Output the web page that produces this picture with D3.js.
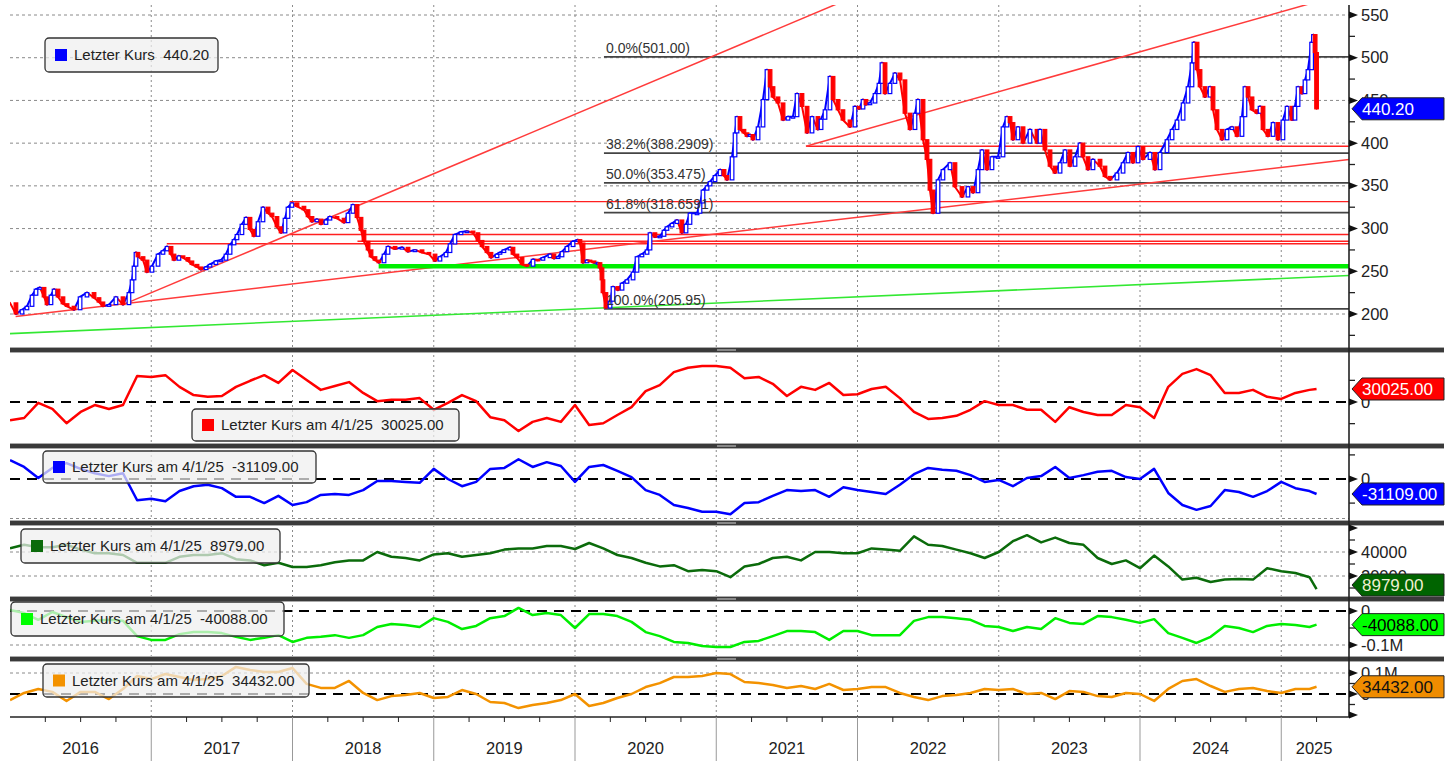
<!DOCTYPE html>
<html><head><meta charset="utf-8">
<script src="https://cdn.jsdelivr.net/npm/d3@7"></script>
<style>
body{margin:0;background:#fff;}
svg{display:block;font-family:"Liberation Sans",Arial,sans-serif;}
text{white-space:pre;}
</style></head><body>
<svg id="chart" width="1456" height="761"></svg>
<script>
// price, decimal year / close
var priceT = [2016.000,2016.042,2016.085,2016.120,2016.156,2016.184,2016.212,2016.241,2016.262,2016.290,2016.312,2016.340,2016.375,2016.404,2016.453,2016.496,2016.545,2016.595,2016.630,2016.658,2016.701,2016.750,2016.800,2016.842,2016.864,2016.878,2016.892,2016.906,2016.942,2016.970,
2017.005,2017.048,2017.083,2017.112,2017.140,2017.161,2017.196,2017.225,2017.260,2017.288,2017.324,2017.352,2017.388,2017.416,2017.458,2017.494,2017.529,2017.558,2017.586,2017.607,2017.642,2017.671,2017.699,2017.727,2017.756,2017.791,2017.827,2017.855,2017.890,2017.919,2017.947,2017.968,2017.996,
2018.032,2018.081,2018.110,2018.138,2018.173,2018.202,2018.237,2018.265,2018.315,2018.365,2018.393,2018.428,2018.457,2018.485,2018.506,2018.535,2018.556,2018.584,2018.612,2018.648,2018.676,2018.726,2018.775,2018.818,2018.867,2018.917,2018.966,
2019.009,2019.044,2019.087,2019.115,2019.150,2019.193,2019.235,2019.278,2019.313,2019.342,2019.377,2019.405,2019.448,2019.469,2019.497,2019.540,2019.561,2019.589,2019.625,2019.660,2019.703,2019.738,2019.773,2019.823,2019.851,2019.880,2019.908,2019.943,2019.986,
2020.021,2020.035,2020.057,2020.085,2020.106,2020.135,2020.163,2020.177,2020.191,2020.198,2020.219,2020.248,2020.269,2020.304,2020.333,2020.368,2020.411,2020.439,2020.474,2020.510,2020.531,2020.566,2020.602,2020.630,2020.651,2020.687,2020.722,2020.757,2020.786,2020.814,2020.864,2020.885,2020.906,2020.935,2020.956,2020.991,
2021.027,2021.055,2021.076,2021.112,2021.133,2021.147,2021.168,2021.196,2021.218,2021.239,2021.260,2021.296,2021.331,2021.359,2021.381,2021.402,2021.437,2021.473,2021.508,2021.543,2021.572,2021.607,2021.643,2021.678,2021.720,2021.742,2021.770,2021.805,2021.827,2021.862,2021.897,2021.947,2021.982,
2022.011,2022.039,2022.060,2022.088,2022.124,2022.152,2022.173,2022.195,2022.230,2022.265,2022.301,2022.336,2022.372,2022.407,2022.428,2022.464,2022.492,2022.513,2022.535,2022.570,2022.605,2022.655,2022.690,2022.740,2022.782,2022.818,2022.853,2022.881,2022.917,2022.952,2022.995,
2023.030,2023.058,2023.080,2023.101,2023.136,2023.172,2023.221,2023.271,2023.292,2023.327,2023.363,2023.398,2023.434,2023.469,2023.504,2023.540,2023.575,2023.596,2023.632,2023.667,2023.717,2023.752,2023.788,2023.837,2023.880,2023.915,2023.950,2023.986,
2024.021,2024.071,2024.106,2024.142,2024.191,2024.227,2024.262,2024.305,2024.340,2024.368,2024.382,2024.404,2024.425,2024.460,2024.496,2024.517,2024.545,2024.581,2024.616,2024.651,2024.687,2024.722,2024.743,2024.765,2024.793,2024.828,2024.850,2024.871,2024.906,2024.942,2024.977,
2025.012,2025.041,2025.076,2025.097,2025.119,2025.147,2025.168,2025.189,2025.215,2025.228,2025.240,2025.250];
var priceV = [213,200,205,209,222,229,231,220,211,222,229,220,212,209,205,220,225,219,214,209,211,220,211,225,240,256,272,267,263,249,
256,270,274,279,270,263,268,266,262,258,255,252,255,258,262,263,270,281,287,293,305,313,299,291,308,325,318,314,302,295,312,325,330,
326,322,314,308,311,305,310,314,312,307,318,328,313,298,285,275,267,263,260,270,279,276,278,273,275,272,270,
262,267,272,282,293,296,297,295,286,279,272,266,270,272,275,278,270,266,258,256,264,263,266,270,265,267,273,279,285,
287,283,260,263,262,260,260,254,240,225,207,215,232,228,236,240,249,267,270,275,295,290,291,298,302,306,310,295,305,318,318,330,345,350,355,362,
369,362,357,384,412,431,416,412,408,410,404,419,451,486,466,454,447,427,431,431,458,443,412,431,416,428,439,478,451,439,427,419,443,
440,451,445,447,458,470,494,458,470,482,474,435,416,435,451,404,381,345,318,357,369,377,349,337,349,342,369,392,369,384,384,
419,431,424,404,419,400,416,400,416,392,373,365,377,392,373,384,400,384,369,381,373,361,357,365,377,389,377,396,
381,389,369,389,404,416,427,447,466,494,518,486,466,454,466,439,416,404,416,419,408,431,466,454,439,435,443,416,408,424,404,
427,443,427,443,466,458,474,486,518,527,506,440.20];

// Fibonacci retracement
var fibLevels = [501.00, 388.2909, 353.475, 318.6591, 205.95];
var fibLabels = ["0.0%(501.00)", "38.2%(388.2909)", "50.0%(353.475)", "61.8%(318.6591)", "100.0%(205.95)"];
var fibStart = 2020.205;

// horizontal red levels
var levelV = [331.5, 293.0, 285.1, 282.2, 396.3];
var levelStart = [2017.98, 2017.98, 2018.46, 2017.11, 2021.635];

// trend lines: [t0, v0, t1, v1], drawn on to the right edge
var trendRed = [[2016.04, 197, 2025.48, 381], [2016.80, 211, 2021.84, 562], [2021.635, 396.3, 2024.30, 521]];
var trendGreen = [[2016.0, 177, 2025.48, 245]];
var supportV = 256, supportStart = 2018.61;

// oscillator panels, sampled every 0.1 year + last value at 4/1/25
var oscT = d3.range(0, 93).map(function(k){ return 2016 + k / 10; }).concat([2025.25]);
var redV = [-42000,-37000,-2000,-16000,-49000,-23000,-7000,-16000,-7000,60000,58000,62000,35000,16000,12000,14000,35000,49000,62000,44000,
74000,51000,28000,37000,46000,21000,2000,5000,5000,9000,-18000,-2000,16000,2000,-35000,-42000,-67000,-46000,-37000,-46000,
-7000,-53000,-49000,-30000,-12000,25000,39000,69000,79000,83000,83000,79000,55000,58000,42000,14000,35000,28000,44000,16000,
18000,30000,35000,9000,-23000,-39000,-37000,-32000,-18000,2000,-7000,-7000,-18000,-18000,-46000,-12000,-23000,-30000,-30000,-7000,
-12000,-37000,35000,65000,76000,62000,21000,21000,28000,12000,7000,21000,28000,30025];
var blueV = [39000,25000,2000,23000,33000,21000,12000,6000,12000,-44000,-41000,-46000,-25000,-15000,-12000,-19000,-37000,-37000,-50000,-35000,
-54000,-48000,-33000,-31000,-33000,-23000,-4000,-4000,-6000,-8000,21000,0,-15000,-6000,21000,23000,41000,25000,35000,27000,
-6000,25000,29000,17000,4000,-23000,-33000,-54000,-60000,-68000,-68000,-73000,-50000,-48000,-35000,-23000,-25000,-23000,-37000,-17000,
-23000,-27000,-31000,-12000,10000,23000,19000,17000,8000,-6000,-2000,-15000,2000,6000,25000,2000,8000,15000,17000,4000,
0,21000,-29000,-54000,-64000,-56000,-23000,-27000,-37000,-25000,-6000,-19000,-25000,-31109];
var dkGreenV = [43000,46000,44000,44000,46000,42000,39000,39000,37500,31000,31000,31000,36000,37500,37500,39000,34000,33000,29000,31000,
27500,27500,29000,31500,33000,33000,40000,36000,35000,33000,38000,39000,36000,37500,39000,42000,43000,43000,45000,45000,
42500,47500,43000,37500,35000,31000,28000,29000,24000,25000,24000,19000,28000,30000,35000,36000,33000,40000,40000,39000,
39000,43000,42000,41000,53000,46000,45000,42000,39000,35000,40000,49000,54000,48000,52000,47500,46000,35000,30000,33000,
26500,37000,28000,17000,18500,15000,17000,17500,17000,26500,24000,22500,19000,8979];
var limeV = [3000,-6000,-26000,-3000,-18000,-32000,-29000,-26000,-29000,-74000,-85000,-85000,-68000,-62000,-62000,-65000,-76000,-85000,-79000,-71000,
-91000,-79000,-76000,-71000,-79000,-71000,-47000,-38000,-41000,-47000,-21000,-32000,-53000,-44000,-21000,-15000,9000,-12000,-6000,-12000,
-50000,-9000,-9000,-15000,-32000,-62000,-74000,-91000,-94000,-103000,-106000,-106000,-91000,-88000,-74000,-59000,-59000,-62000,-85000,-59000,
-59000,-71000,-71000,-71000,-29000,-18000,-18000,-21000,-26000,-44000,-47000,-59000,-47000,-53000,-21000,-35000,-38000,-15000,-18000,-26000,
-35000,-24000,-65000,-79000,-94000,-76000,-44000,-50000,-62000,-44000,-38000,-41000,-47000,-40088];
var orangeV = [-29000,5000,24000,10000,-33000,10000,10000,-24000,24000,86000,71000,95000,81000,67000,71000,86000,129000,114000,105000,105000,
124000,48000,29000,29000,62000,5000,-29000,-10000,-5000,5000,-19000,-14000,19000,0,-38000,-43000,-67000,-52000,-43000,-29000,
0,-57000,-43000,-19000,0,33000,52000,81000,81000,86000,100000,95000,57000,52000,43000,29000,38000,24000,48000,19000,
24000,33000,33000,5000,-14000,-29000,-10000,-5000,5000,24000,19000,24000,0,5000,-24000,14000,10000,-10000,-14000,5000,
0,-33000,24000,62000,71000,38000,10000,24000,29000,14000,5000,24000,24000,34432];

var legendMain = "Letzter Kurs  440.20";
var oscLegends = ["Letzter Kurs am 4/1/25  30025.00", "Letzter Kurs am 4/1/25  -31109.00", "Letzter Kurs am 4/1/25  8979.00",
                  "Letzter Kurs am 4/1/25  -40088.00", "Letzter Kurs am 4/1/25  34432.00"];
var yearLabels = ["2016","2017","2018","2019","2020","2021","2022","2023","2024","2025"];

var svg = d3.select('#chart');
var L = 10, R = 1349, tEnd = 2025.48;
var x = d3.scaleLinear().domain([2016, 2025]).range([10, 1281.25]);

// panel layout
var panels = [
  {id:'p0', top:5,   bottom:347, y:d3.scaleLinear().domain([200, 550]).range([314, 15])},
  {id:'p1', top:353, bottom:443, y:d3.scaleLinear().domain([-100000, 100000]).range([445.3, 358.7])},
  {id:'p2', top:448, bottom:520, y:d3.scaleLinear().domain([-100000, 100000]).range([527.2, 430.8])},
  {id:'p3', top:525, bottom:596, y:d3.scaleLinear().domain([20000, 40000]).range([576, 552])},
  {id:'p4', top:601, bottom:656, y:d3.scaleLinear().domain([-100000, 0]).range([645, 611])},
  {id:'p5', top:661, bottom:717, y:d3.scaleLinear().domain([0, 100000]).range([694, 673])}
];
var defs = svg.append('defs');
panels.forEach(function(p){
  defs.append('clipPath').attr('id', 'clip' + p.id).append('rect')
    .attr('x', L).attr('y', p.top).attr('width', R - L).attr('height', p.bottom - p.top);
});
var yM = panels[0].y;

// vertical year grid
var years = d3.range(2017, 2026);
svg.append('g').selectAll('line').data(years).enter().append('line')
  .attr('x1', d => x(d)).attr('x2', d => x(d)).attr('y1', 5).attr('y2', 717)
  .attr('stroke', '#8a8a8a').attr('stroke-dasharray', '2,3');

// horizontal grids
function hgrid(vals, scale){
  svg.append('g').selectAll('line').data(vals).enter().append('line')
    .attr('x1', L).attr('x2', R).attr('y1', d => scale(d)).attr('y2', d => scale(d))
    .attr('stroke', '#8a8a8a').attr('stroke-dasharray', '3,3');
}
hgrid(d3.range(200, 551, 50), yM);
hgrid([20000, 40000], panels[3].y);
hgrid([-100000], panels[4].y);
hgrid([100000], panels[5].y);
svg.append('line').attr('x1', L).attr('x2', R).attr('y1', 518.5).attr('y2', 518.5)
  .attr('stroke', '#8a8a8a').attr('stroke-dasharray', '3,3');

// main panel overlays
function extend(d){
  var s = (d[3] - d[1]) / (d[2] - d[0]);
  return [d[0], d[1], tEnd, d[1] + s * (tEnd - d[0])];
}
var gM = svg.append('g').attr('clip-path', 'url(#clipp0)');
gM.selectAll('line.fib').data(fibLevels).enter().append('line')
  .attr('x1', x(fibStart)).attr('x2', R).attr('y1', d => yM(d)).attr('y2', d => yM(d))
  .attr('stroke', '#444').attr('stroke-width', 1.6);
gM.selectAll('line.lvl').data(levelV).enter().append('line')
  .attr('x1', (d, i) => x(levelStart[i])).attr('x2', R).attr('y1', d => yM(d)).attr('y2', d => yM(d))
  .attr('stroke', '#ff2020').attr('stroke-width', 1.4);
gM.selectAll('line.tr').data(trendRed.map(extend)).enter().append('line')
  .attr('x1', d => x(d[0])).attr('y1', d => yM(d[1])).attr('x2', d => x(d[2])).attr('y2', d => yM(d[3]))
  .attr('stroke', '#ff3b3b').attr('stroke-width', 1.5);
gM.selectAll('line.tg').data(trendGreen.map(extend)).enter().append('line')
  .attr('x1', d => x(d[0])).attr('y1', d => yM(d[1])).attr('x2', d => x(d[2])).attr('y2', d => yM(d[3]))
  .attr('stroke', '#33e833').attr('stroke-width', 1.6);
gM.append('line').attr('x1', x(supportStart)).attr('x2', R)
  .attr('y1', yM(supportV)).attr('y2', yM(supportV))
  .attr('stroke', '#00ee00').attr('stroke-width', 4.5);

// price: up moves blue, down moves red, drawn as joined bars
var idx = d3.range(1, priceT.length);
var upC = '#0000ff', dnC = '#ff0000';
gM.selectAll('line.px').data(idx).enter().append('line')
  .attr('x1', i => x(priceT[i-1])).attr('y1', i => yM(priceV[i-1]))
  .attr('x2', i => x(priceT[i])).attr('y2', i => yM(priceV[i]))
  .attr('stroke', i => priceV[i] >= priceV[i-1] ? upC : dnC)
  .attr('stroke-width', 2).attr('stroke-linecap', 'round');
gM.selectAll('rect.cd').data(idx).enter().append('rect')
  .attr('x', i => x(priceT[i]) - 1.8).attr('width', 3.6)
  .attr('y', i => yM(Math.max(priceV[i], priceV[i-1])))
  .attr('height', i => Math.max(1.5, Math.abs(yM(priceV[i]) - yM(priceV[i-1]))))
  .attr('fill', i => priceV[i] >= priceV[i-1] ? '#fff' : dnC)
  .attr('stroke', i => priceV[i] >= priceV[i-1] ? upC : dnC).attr('stroke-width', 1.2);

svg.append('g').selectAll('text').data(fibLabels).enter().append('text')
  .attr('x', x(fibStart) + 2).attr('y', (d, i) => yM(fibLevels[i]) - 4)
  .attr('font-size', 14).attr('fill', '#333').text(d => d);

// oscillator lines
var oscSeries = [
  {v:redV, c:'#ff0000', zero:true},
  {v:blueV, c:'#0000ff', zero:true},
  {v:dkGreenV, c:'#0b6b0b', zero:false},
  {v:limeV, c:'#00ee00', zero:true},
  {v:orangeV, c:'#f39200', zero:true}
];
oscSeries.forEach(function(s, i){
  var p = panels[i + 1];
  if (s.zero) {
    svg.append('line').attr('x1', L).attr('x2', R).attr('y1', p.y(0)).attr('y2', p.y(0))
      .attr('stroke', '#000').attr('stroke-width', 2.2).attr('stroke-dasharray', '10,7');
  }
  var line = d3.line().x((d, k) => x(oscT[k])).y(d => p.y(d));
  svg.append('path').datum(s.v).attr('clip-path', 'url(#clip' + p.id + ')')
    .attr('d', line).attr('fill', 'none').attr('stroke', s.c).attr('stroke-width', 2.5)
    .attr('stroke-linejoin', 'round');
});

// separators
[347, 443, 520, 596, 656].forEach(function(y){
  svg.append('rect').attr('x', L).attr('y', y).attr('width', 1434).attr('height', 6).attr('fill', '#aaa');
  svg.append('rect').attr('x', L).attr('y', y + 1).attr('width', 1434).attr('height', 4).attr('fill', '#3a3a3a');
  svg.append('rect').attr('x', 717).attr('y', y + 2).attr('width', 19).attr('height', 2).attr('fill', '#888');
});

// right axis
svg.append('line').attr('x1', R).attr('x2', R).attr('y1', 5).attr('y2', 717).attr('stroke', '#222').attr('stroke-width', 1.6);
var axisDefs = [
  {p:0, major:d3.range(200, 551, 50), minor:d3.range(175, 551, 50), fmt:d => String(d)},
  {p:1, major:[0], minor:[-50000, 50000], fmt:d => '0'},
  {p:2, major:[0, -100000], minor:[-50000, 50000], fmt:d => d === 0 ? '0' : ''},
  {p:3, major:[60000, 40000, 20000], minor:[50000, 30000, 10000], fmt:d => d === 60000 ? '' : String(d)},
  {p:4, major:[0, -100000], minor:[-50000], fmt:d => d === 0 ? '0' : '-0.1M'},
  {p:5, major:[100000, 0, -100000], minor:[50000, -50000], fmt:d => d === 100000 ? '0.1M' : (d === 0 ? '0' : '')}
];
var gAx = svg.append('g');
axisDefs.forEach(function(a){
  var p = panels[a.p];
  a.minor.forEach(function(v){
    var yy = p.y(v);
    if (yy < p.top || yy > p.bottom) return;
    gAx.append('line').attr('x1', R).attr('x2', R + 6).attr('y1', yy).attr('y2', yy).attr('stroke', '#222').attr('stroke-width', 1.3);
  });
  a.major.forEach(function(v){
    var yy = p.y(v);
    if (yy < p.top - 1 || yy > p.bottom + 1) return;
    gAx.append('path').attr('d', 'M' + R + ',' + (yy - 3.5) + 'L' + (R + 9) + ',' + yy + 'L' + R + ',' + (yy + 3.5) + 'Z').attr('fill', '#111');
    var t = a.fmt(v);
    if (t) gAx.append('text').attr('x', R + 12).attr('y', yy + 5.5).attr('font-size', 16.5).attr('fill', '#222').text(t);
  });
});

// value tags
var tags = [
  {p:0, v:440.20, txt:'440.20', fill:'#0000ff', col:'#fff'},
  {p:1, v:30025, txt:'30025.00', fill:'#ff0000', col:'#fff'},
  {p:2, v:-31109, txt:'-31109.00', fill:'#0000ff', col:'#fff'},
  {p:3, v:8979, txt:'8979.00', fill:'#006400', col:'#f0f0d0'},
  {p:4, v:-40088, txt:'-40088.00', fill:'#00ff00', col:'#000'},
  {p:5, v:34432, txt:'34432.00', fill:'#ef8c00', col:'#111'}
];
tags.forEach(function(t){
  var yy = Math.min(panels[t.p].y(t.v), panels[t.p].bottom - 11);
  svg.append('path').attr('d', 'M' + (R + 3) + ',' + yy + 'L' + (R + 13) + ',' + (yy - 11) + 'L1444,' + (yy - 11) +
      'L1444,' + (yy + 11) + 'L' + (R + 13) + ',' + (yy + 11) + 'Z')
    .attr('fill', t.fill).attr('stroke', '#222').attr('stroke-width', 1);
  svg.append('text').attr('x', R + 13).attr('y', yy + 6).attr('font-size', 17).attr('fill', t.col).text(t.txt);
});

// bottom time axis
svg.append('line').attr('x1', L).attr('x2', R).attr('y1', 717).attr('y2', 717).attr('stroke', '#222').attr('stroke-width', 1.5);
var quarters = d3.range(2016.25, 2025.3, 0.25).filter(d => d % 1 !== 0);
svg.append('g').selectAll('line').data(quarters).enter().append('line')
  .attr('x1', d => x(d)).attr('x2', d => x(d)).attr('y1', 717).attr('y2', 722).attr('stroke', '#222');
svg.append('g').selectAll('line').data(years).enter().append('line')
  .attr('x1', d => x(d)).attr('x2', d => x(d)).attr('y1', 717).attr('y2', 761).attr('stroke', '#999');
svg.append('g').selectAll('text').data(yearLabels).enter().append('text')
  .attr('x', (d, i) => i < 9 ? (x(2016 + i) + x(2017 + i)) / 2 : (x(2025) + R) / 2 - 1)
  .attr('y', 754).attr('text-anchor', 'middle').attr('font-size', 16.5).attr('fill', '#222').text(d => d);

// legends
var legends = [
  {x:45, y:38, w:173, h:34, c:'#0000ff', t:legendMain},
  {x:192, y:409, w:267, h:32, c:'#ff0000', t:oscLegends[0]},
  {x:43, y:451, w:273, h:32, c:'#0000ff', t:oscLegends[1]},
  {x:21, y:529, w:259, h:34, c:'#0b6b0b', t:oscLegends[2]},
  {x:11, y:602, w:273, h:34, c:'#00ff00', t:oscLegends[3]},
  {x:43, y:664, w:266, h:33, c:'#f39200', t:oscLegends[4]}
];
legends.forEach(function(l){
  var g = svg.append('g');
  g.append('rect').attr('x', l.x).attr('y', l.y).attr('width', l.w).attr('height', l.h).attr('rx', 4)
    .attr('fill', '#eeeeee').attr('fill-opacity', 0.72).attr('stroke', '#333').attr('stroke-width', 1.3);
  g.append('rect').attr('x', l.x + 10).attr('y', l.y + l.h / 2 - 6).attr('width', 12).attr('height', 12).attr('fill', l.c);
  g.append('text').attr('x', l.x + 29).attr('y', l.y + l.h / 2 + 5).attr('font-size', 15).attr('fill', '#222')
    .attr('xml:space', 'preserve').text(l.t);
});
</script>
</body></html>
